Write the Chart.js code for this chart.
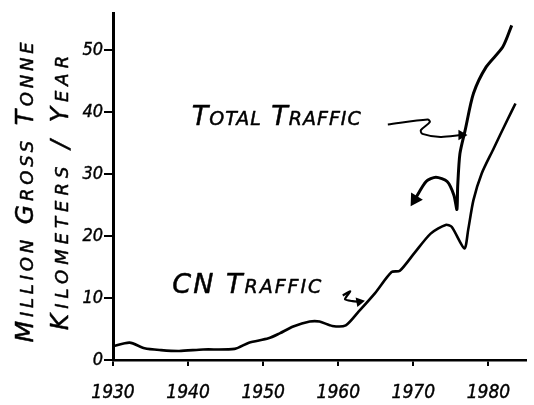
<!DOCTYPE html>
<html>
<head>
<meta charset="utf-8">
<script src="https://cdn.jsdelivr.net/npm/chart.js@4.4.1/dist/chart.umd.min.js"></script>
<style>
  html, body { margin: 0; padding: 0; background: #fff; }
  #chart { display: block; }
</style>
</head>
<body>
<canvas id="chart" width="534" height="405"></canvas>
<script>
// CN traffic (lower curve)
const cnYears = [1930.0, 1932.2, 1934.2, 1936.4, 1938.8, 1942.0, 1946.2, 1948.1, 1950.7, 1952.2,
                 1954.0, 1956.2, 1957.5, 1959.2, 1961.0, 1962.7, 1964.9, 1967.1, 1968.2, 1970.1,
                 1972.3, 1974.3, 1975.1, 1976.8, 1977.3, 1978.0, 1979.1, 1980.6, 1982.5, 1983.6];
const cnValues = [2.2, 2.8, 1.9, 1.6, 1.45, 1.7, 1.8, 2.8, 3.5, 4.3,
                  5.4, 6.2, 6.2, 5.5, 5.6, 7.8, 10.8, 14.2, 14.4, 17.2,
                  20.4, 21.8, 21.5, 18.0, 21.0, 25.8, 30.1, 33.9, 38.7, 41.4];

// Total traffic (upper curve)
const totalYears = [1970.2, 1971.7, 1973.0, 1974.5, 1975.4, 1975.8, 1975.9, 1976.2, 1976.9,
                    1978.0, 1979.7, 1981.9, 1983.1];
const totalValues = [25.9, 28.8, 29.5, 28.8, 26.6, 24.3, 28.0, 33.3, 37.1,
                     43.0, 47.3, 50.5, 54.0];

// pointer arrows next to the hand lettering
const totalArrowYears = [1966.6, 1971.9, 1972.2, 1971.0, 1971.2, 1973.6, 1976.4];
const totalArrowValues = [38.0, 38.8, 38.4, 37.1, 36.5, 36.0, 36.3];
const cnArrowYears = [1960.6, 1961.6, 1960.9, 1961.9, 1962.8];
const cnArrowValues = [10.4, 11.1, 9.8, 9.5, 9.4];

const xTicks = [1930, 1940, 1950, 1960, 1970, 1980];
const yTicks = [0, 10, 20, 30, 40, 50];
const yTitle = ['Million Gross Tonne', 'Kilometers / Year'];
const totalLabel = 'Total Traffic';
const cnLabel = 'CN Traffic';

const ink = '#000';
const tickFont = "'DejaVu Sans Condensed', 'DejaVu Sans', sans-serif";
const handFont = "'DejaVu Sans', sans-serif";

function pts(xs, ys) {
    return xs.map((x, i) => ({ x: x, y: ys[i] }));
}

// fill + thin stroke so the letters look like marker pen
function penText(ctx, text, x, y) {
    ctx.fillText(text, x, y);
    ctx.strokeText(text, x, y);
}

// lettering that Chart.js can't do on its own (small caps, wide spacing)
const handLettering = {
    id: 'handLettering',
    afterDraw(chart) {
        const { ctx, chartArea, scales } = chart;
        ctx.save();
        ctx.fillStyle = ink;
        ctx.strokeStyle = ink;
        ctx.lineWidth = 0.5;
        ctx.lineJoin = 'round';
        ctx.textBaseline = 'alphabetic';

        // two-line vertical axis title
        ctx.font = 'italic small-caps 25px ' + handFont;
        ctx.textAlign = 'center';
        const midY = (chartArea.top + chartArea.bottom) / 2 + 4;
        [[chartArea.left - 80, 3.8], [chartArea.left - 45, 5]].forEach(([bx, sp], i) => {
            ctx.save();
            ctx.letterSpacing = sp + 'px';
            ctx.translate(bx, midY);
            ctx.rotate(-Math.PI / 2);
            penText(ctx, yTitle[i], 0, 0);
            ctx.restore();
        });

        // curve labels
        ctx.textAlign = 'left';
        ctx.font = 'italic small-caps 27px ' + handFont;
        ctx.letterSpacing = '1px';
        penText(ctx, totalLabel, scales.x.getPixelForValue(1940.5), scales.y.getPixelForValue(37.9));
        ctx.letterSpacing = '2px';
        penText(ctx, cnLabel, scales.x.getPixelForValue(1937.9), scales.y.getPixelForValue(10.8));
        ctx.letterSpacing = '0px';
        ctx.restore();
    }
};

const lastOnly = (n, r) => (c) => (c.dataIndex === n - 1 ? r : 0);

new Chart(document.getElementById('chart'), {
    type: 'line',
    data: {
        datasets: [
            {
                label: 'CN Traffic',
                data: pts(cnYears, cnValues),
                borderColor: ink,
                borderWidth: 2.6,
                tension: 0.25,
                pointRadius: 0
            },
            {
                label: 'Total Traffic',
                data: pts(totalYears, totalValues),
                borderColor: ink,
                backgroundColor: ink,
                borderWidth: 3,
                tension: 0.25,
                pointStyle: 'triangle',
                pointRotation: 212,
                pointRadius: (c) => (c.dataIndex === 0 ? 5 : 0)
            },
            {
                label: 'total arrow',
                data: pts(totalArrowYears, totalArrowValues),
                borderColor: ink,
                backgroundColor: ink,
                borderWidth: 2,
                tension: 0.3,
                pointStyle: 'triangle',
                pointRotation: 90,
                pointRadius: lastOnly(totalArrowYears.length, 4)
            },
            {
                label: 'cn arrow',
                data: pts(cnArrowYears, cnArrowValues),
                borderColor: ink,
                backgroundColor: ink,
                borderWidth: 2.2,
                tension: 0.2,
                pointStyle: 'triangle',
                pointRotation: 80,
                pointRadius: lastOnly(cnArrowYears.length, 3.5)
            }
        ]
    },
    options: {
        responsive: false,
        animation: false,
        layout: { padding: { top: 13, left: 0, right: 0, bottom: 0 } },
        plugins: {
            legend: { display: false },
            tooltip: { enabled: false }
        },
        scales: {
            x: {
                type: 'linear',
                min: 1930,
                max: 1985,
                afterBuildTicks: (s) => { s.ticks = xTicks.map(v => ({ value: v })); },
                afterFit: (s) => { s.height = 45; },
                border: { display: true, color: ink, width: 2.5 },
                grid: { drawOnChartArea: false, drawTicks: true, tickLength: 6, color: ink, lineWidth: 2 },
                ticks: {
                    color: ink,
                    padding: 16,
                    maxRotation: 0,
                    textStrokeColor: ink,
                    textStrokeWidth: 0.4,
                    font: { family: tickFont, size: 19, style: 'italic' },
                    callback: (v) => String(v)
                }
            },
            y: {
                min: 0,
                max: 56,
                afterBuildTicks: (s) => { s.ticks = yTicks.map(v => ({ value: v })); },
                afterFit: (s) => { s.width = 113; },
                border: { display: true, color: ink, width: 3 },
                grid: { drawOnChartArea: false, drawTicks: true, tickLength: 9, color: ink, lineWidth: 2 },
                ticks: {
                    color: ink,
                    padding: 1,
                    textStrokeColor: ink,
                    textStrokeWidth: 0.4,
                    font: { family: tickFont, size: 18, style: 'italic' },
                    callback: (v) => String(v)
                }
            }
        }
    },
    plugins: [handLettering]
});
</script>
</body>
</html>
